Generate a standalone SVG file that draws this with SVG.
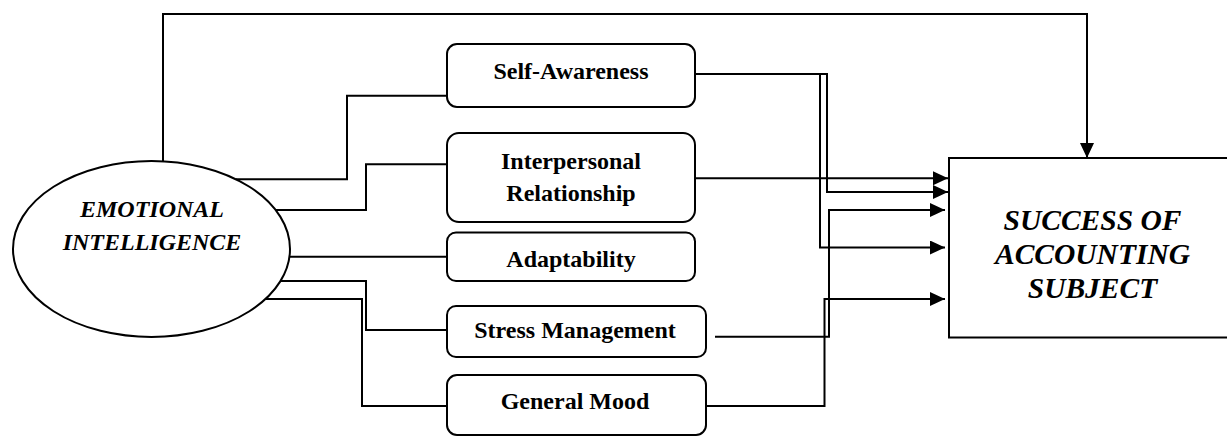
<svg xmlns="http://www.w3.org/2000/svg" width="1227" height="436" viewBox="0 0 1227 436">
<style>
.node{fill:#fff;stroke:#000;stroke-width:2}
.lbl{font-family:"Liberation Serif","Times New Roman",serif;font-weight:bold;font-size:24px;text-anchor:middle;fill:#000}
.it{font-style:italic}
.big{font-size:29.5px}
.conn{fill:none;stroke:#000;stroke-width:2}
</style>
<defs>
<marker id="arr" markerUnits="userSpaceOnUse" markerWidth="16" markerHeight="14" refX="15" refY="7" orient="auto">
<path d="M0,0 L15,7 L0,14 z" fill="#000"/>
</marker>
</defs>
<g id="connectors">
<path class="conn" d="M163,161 V14 H1087 V158" marker-end="url(#arr)"/>
<path class="conn" d="M236,179.3 H347 V95.7 H455"/>
<path class="conn" d="M276,210 H366 V164.3 H447"/>
<path class="conn" d="M289.5,256.7 H447"/>
<path class="conn" d="M280,281 H366 V330 H447"/>
<path class="conn" d="M266,299 H362 V406 H447"/>
<path class="conn" d="M695,178.3 H948" marker-end="url(#arr)"/>
<path class="conn" d="M695,74 H827 V192 H948" marker-end="url(#arr)"/>
<path class="conn" d="M820,74 V247.5 H945" marker-end="url(#arr)"/>
<path class="conn" d="M715,336.7 H829 V210 H945" marker-end="url(#arr)"/>
<path class="conn" d="M706,406 H824.5 V299 H945" marker-end="url(#arr)"/>
</g>
<g id="emotional-intelligence">
<ellipse class="node" cx="151.5" cy="249" rx="138.5" ry="88" stroke-width="1.8"/>
<text class="lbl it" x="152" y="216.7">EMOTIONAL</text>
<text class="lbl it" x="152" y="250">INTELLIGENCE</text>
</g>
<g id="self-awareness">
<rect class="node" x="447" y="44" width="248" height="63" rx="10"/>
<text class="lbl" x="571" y="79.3">Self-Awareness</text>
</g>
<g id="interpersonal-relationship">
<rect class="node" x="447" y="133" width="248" height="89" rx="12"/>
<text class="lbl" x="571" y="169.3">Interpersonal</text>
<text class="lbl" x="571" y="201">Relationship</text>
</g>
<g id="adaptability">
<rect class="node" x="447" y="232.5" width="248" height="48.5" rx="9"/>
<text class="lbl" x="571" y="266.7">Adaptability</text>
</g>
<g id="stress-management">
<rect class="node" x="447" y="306" width="259" height="51" rx="9"/>
<text class="lbl" x="575" y="338.3">Stress Management</text>
</g>
<g id="general-mood">
<rect class="node" x="447" y="375" width="259" height="60" rx="10"/>
<text class="lbl" x="575" y="409.3">General Mood</text>
</g>
<g id="success-of-accounting-subject">
<rect class="node" x="949" y="158" width="290" height="179.5"/>
<text class="lbl it big" x="1092.5" y="230">SUCCESS OF</text>
<text class="lbl it big" x="1092.5" y="264">ACCOUNTING</text>
<text class="lbl it big" x="1092.5" y="298">SUBJECT</text>
</g>
</svg>
